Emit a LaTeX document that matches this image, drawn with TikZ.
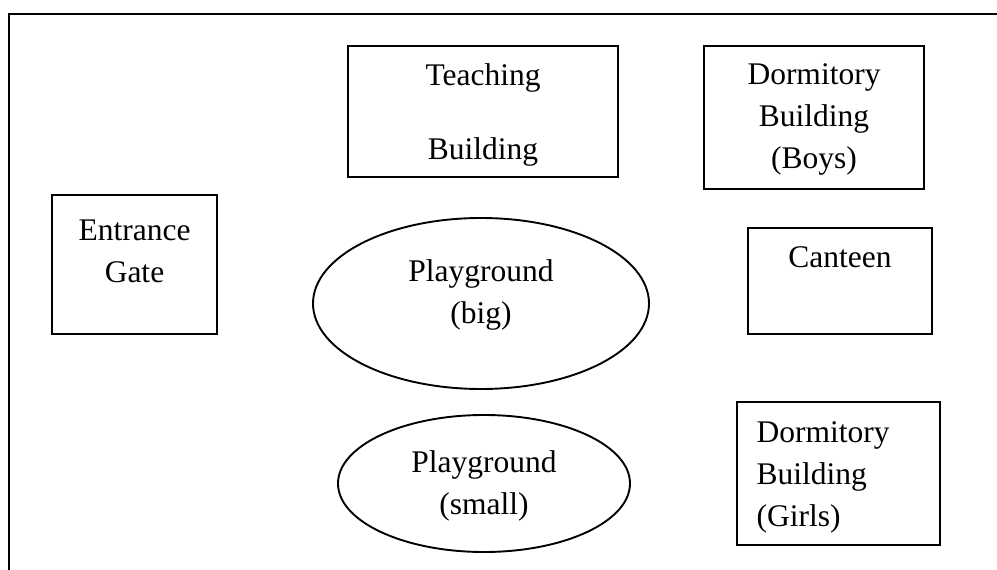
\documentclass[tikz,border=0pt]{standalone}
\usepackage{fontspec}
\setmainfont{Liberation Serif}
\usepackage{tikz}
\usetikzlibrary{positioning,shapes.geometric}

\begin{document}
\begin{tikzpicture}[x=1pt,y=-1pt,
  box/.style={draw,line width=2.4pt,inner sep=0pt,outer sep=0pt},
  field/.style={draw,ellipse,line width=1.9pt,inner sep=0pt,outer sep=0pt},
  txt/.style={inner sep=0pt,align=center,font=\fontsize{31.5pt}{42pt}\selectfont}]
\useasboundingbox (0,0) rectangle (997,570);
% school grounds (only top and left edges show)
\draw[line width=2.4pt] (997,14) -- (9,14) -- (9,570);
% buildings
\node[box,minimum width=270pt,minimum height=131pt] (teach) at (483,111.5) {};
\node[box,minimum width=220pt,minimum height=143pt] (boys) at (814,117.5) {};
\node[box,minimum width=165pt,minimum height=139pt] (gate) at (134.5,264.5) {};
\node[box,minimum width=184pt,minimum height=106pt] (canteen) at (840,281) {};
\node[box,minimum width=203pt,minimum height=143pt] (girls) at (838.5,473.5) {};
% playgrounds
\node[field,minimum width=336pt,minimum height=171pt] (pgbig) at (481,303.5) {};
\node[field,minimum width=292pt,minimum height=137pt] (pgsmall) at (484,483.5) {};
% labels
\node[txt,below=17.5pt of teach.north] (teachtxt) {Teaching\\[32pt]Building};
\node[txt,below=17.5pt of boys.north] (boystxt) {Dormitory\\Building\\(Boys)};
\node[txt,below=25pt of gate.north] (gatetxt) {Entrance\\Gate};
\node[txt,below=18.7pt of canteen.north] (canteentxt) {Canteen};
\node[txt,align=left,below right=19.5pt and 19.5pt of girls.north west] (girlstxt) {Dormitory\\Building\\(Girls)};
\node[txt,below=41.5pt of pgbig.north] (pgbigtxt) {Playground\\(big)};
\node[txt,below=35.5pt of pgsmall.north] (pgsmalltxt) {Playground\\(small)};
\end{tikzpicture}
\end{document}
